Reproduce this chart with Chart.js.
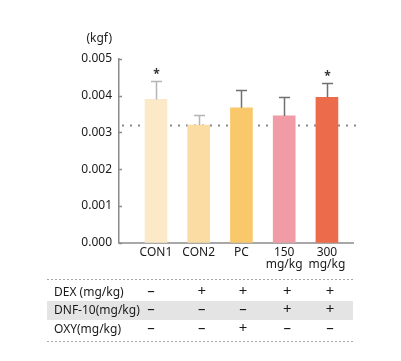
<!DOCTYPE html>
<html>
<head>
<meta charset="utf-8">
<script src="https://cdn.jsdelivr.net/npm/chart.js@4"></script>
<style>
  html, body { margin: 0; padding: 0; background: #fff; }
  canvas { display: block; }
</style>
</head>
<body>
<canvas id="chart" width="401" height="361"></canvas>
<script>
// data
var categories = ['CON1', 'CON2', 'PC', ['150', 'mg/kg'], ['300', 'mg/kg']];
var means = [0.00390, 0.00320, 0.00367, 0.00345, 0.00396];
var errors = [0.00049, 0.00027, 0.00048, 0.00051, 0.00039];
var signif = ['*', '', '', '', '*'];
var refValue = 0.00321;
var yTicks = [0, 0.001, 0.002, 0.003, 0.004, 0.005];

var rowLabels = ['DEX (mg/kg)', 'DNF-10(mg/kg)', 'OXY(mg/kg)'];
var dexRow = ['–', '+', '+', '+', '+'];
var dnfRow = ['–', '–', '–', '+', '+'];
var oxyRow = ['–', '–', '+', '–', '–'];

// styles
var barColors = ['#fce9c8', '#fbdca2', '#f9c86b', '#f09ba6', '#ec6b4a'];
var errColors = ['#b5b5b5', '#b5b5b5', '#707070', '#707070', '#707070'];
var colShift = [-5, 3, 1.5, 3, 3];
var FONT = '"Noto Sans", sans-serif';

var points = means.map(function(v, i) { return { x: i + 1, y: v }; });

var extras = {
    id: 'extras',
    beforeDatasetsDraw: function(chart) {
        var ctx = chart.ctx;
        var ys = chart.scales.y;
        var y = Math.round(ys.getPixelForValue(refValue)) + 0.5;
        ctx.save();
        // dotted reference line
        ctx.strokeStyle = '#8a8a8a';
        ctx.lineWidth = 2;
        ctx.setLineDash([2, 6]);
        ctx.beginPath();
        ctx.moveTo(chart.chartArea.left + 3, y);
        ctx.lineTo(356, y);
        ctx.stroke();
        ctx.restore();
    },
    afterDatasetsDraw: function(chart) {
        var ctx = chart.ctx;
        var xs = chart.scales.x, ys = chart.scales.y;
        ctx.save();
        // error bars and stars
        means.forEach(function(m, i) {
            var x = Math.round(xs.getPixelForValue(i + 1)) + 0.5;
            var y0 = ys.getPixelForValue(m);
            var y1 = Math.round(ys.getPixelForValue(m + errors[i])) + 0.5;
            ctx.strokeStyle = errColors[i];
            ctx.lineWidth = 1.5;
            ctx.beginPath();
            ctx.moveTo(x, y0);
            ctx.lineTo(x, y1);
            ctx.moveTo(x - 5.5, y1);
            ctx.lineTo(x + 5.5, y1);
            ctx.stroke();
            if (signif[i]) {
                ctx.fillStyle = '#333';
                ctx.font = 'bold 12px ' + FONT;
                ctx.textAlign = 'center';
                ctx.textBaseline = 'middle';
                ctx.fillText(signif[i], x, y1 - 7);
            }
        });
        // small ticks on y axis
        ctx.strokeStyle = '#8a8a8a';
        ctx.lineWidth = 1.5;
        yTicks.forEach(function(t) {
            var y = Math.round(ys.getPixelForValue(t)) + 0.5;
            ctx.beginPath();
            ctx.moveTo(chart.chartArea.left, y);
            ctx.lineTo(chart.chartArea.left + 3, y);
            ctx.stroke();
        });
        // unit label
        ctx.fillStyle = '#222';
        ctx.font = '12px ' + FONT;
        ctx.textAlign = 'right';
        ctx.textBaseline = 'middle';
        ctx.fillText('(kgf)', 112, 39);
        ctx.restore();
    },
    afterDraw: function(chart) {
        var ctx = chart.ctx;
        var xs = chart.scales.x;
        var left = 47, right = 353;
        ctx.save();
        // shaded middle row
        ctx.fillStyle = '#e4e4e4';
        ctx.fillRect(left, 301, right - left, 19);
        // dashed borders
        ctx.strokeStyle = '#a8a8a8';
        ctx.lineWidth = 1;
        ctx.setLineDash([2, 2]);
        [279.5, 341.5].forEach(function(y) {
            ctx.beginPath();
            ctx.moveTo(left, y);
            ctx.lineTo(right, y);
            ctx.stroke();
        });
        ctx.setLineDash([]);
        var rows = [dexRow, dnfRow, oxyRow];
        var rowY = [292.5, 311, 329.5];
        ctx.fillStyle = '#1a1a1a';
        ctx.textBaseline = 'middle';
        rows.forEach(function(row, r) {
            ctx.font = '12px ' + FONT;
            ctx.textAlign = 'left';
            ctx.fillText(rowLabels[r], 54, rowY[r]);
            ctx.font = '15px ' + FONT;
            ctx.textAlign = 'center';
            row.forEach(function(s, i) {
                var x = xs.getPixelForValue(i + 1) + colShift[i];
                ctx.fillText(s, x, rowY[r] - 1);
            });
        });
        ctx.restore();
    }
};

var chart = new Chart(document.getElementById('chart').getContext('2d'), {
    type: 'bar',
    data: {
        datasets: [{
            data: points,
            backgroundColor: barColors,
            borderWidth: 0,
            barThickness: 22
        }]
    },
    options: {
        responsive: false,
        animation: false,
        layout: { padding: { left: 0, right: 48, top: 59, bottom: 0 } },
        plugins: { legend: { display: false }, tooltip: { enabled: false } },
        scales: {
            x: {
                type: 'linear',
                offset: false,
                min: 0.135,
                max: 5.61,
                grid: { display: false, drawTicks: false, offset: false },
                border: { display: true, color: '#a8a8a8', width: 2 },
                afterBuildTicks: function(scale) {
                    scale.ticks = categories.map(function(c, i) { return { value: i + 1 }; });
                },
                afterFit: function(scale) { scale.height = 118.3; },
                ticks: {
                    padding: 4,
                    maxRotation: 0,
                    autoSkip: false,
                    color: '#1a1a1a',
                    font: { family: FONT, size: 12, lineHeight: 1.0 },
                    callback: function(v) { return categories[v - 1]; }
                }
            },
            y: {
                min: 0,
                max: 0.005,
                grid: { display: false, drawTicks: false },
                border: { display: true, color: '#8a8a8a', width: 1.5 },
                afterBuildTicks: function(scale) {
                    scale.ticks = yTicks.map(function(t) { return { value: t }; });
                },
                afterFit: function(scale) { scale.width = 119; },
                ticks: {
                    padding: 7,
                    color: '#1a1a1a',
                    font: { family: FONT, size: 12 },
                    callback: function(v) { return v.toFixed(3); }
                }
            }
        }
    },
    plugins: [extras]
});
</script>
</body>
</html>
